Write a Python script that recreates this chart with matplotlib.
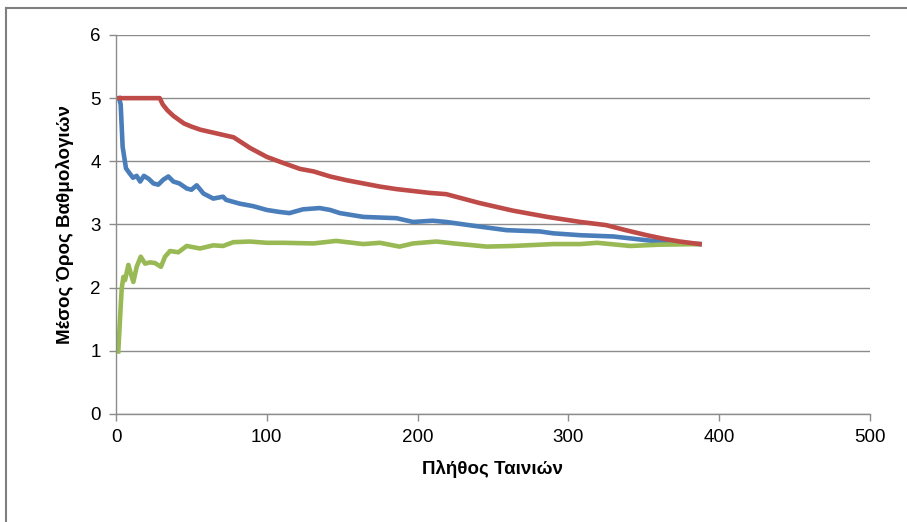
import matplotlib
matplotlib.use("Agg")
import matplotlib.pyplot as plt
from matplotlib.lines import Line2D

plt.rcParams['font.family'] = ['Liberation Sans', 'DejaVu Sans']

# μέγιστος μέσος όρος (κόκκινο)
max_x = [0, 29, 31, 34, 38, 45, 50, 56, 67, 78, 89, 100, 109, 122, 131, 142, 153,
         164, 175, 186, 197, 208, 219, 230, 241, 263, 286, 308, 325, 338, 352, 364,
         374, 387]
max_y = [5.0, 5.0, 4.9, 4.81, 4.72, 4.6, 4.55, 4.5, 4.44, 4.38, 4.21, 4.07, 3.99,
         3.88, 3.84, 3.76, 3.70, 3.65, 3.60, 3.56, 3.53, 3.50, 3.48, 3.41, 3.34, 3.22,
         3.12, 3.04, 2.99, 2.91, 2.83, 2.77, 2.73, 2.69]

# μέσος όρος (μπλε)
avg_x = [2, 3.1, 4.4, 6.6, 9, 11.3, 13.7, 16, 18.5, 21.8, 24.8, 28, 31.4, 34.7, 38,
         42, 46.9, 50, 53.5, 58, 64.5, 71, 73, 82, 91, 100, 108, 115, 124, 135, 142,
         148.5, 164, 186, 197, 210, 219, 237, 259, 281, 290, 308, 319, 330, 352, 369, 387]
avg_y = [5.0, 4.9, 4.23, 3.89, 3.81, 3.74, 3.77, 3.68, 3.77, 3.72, 3.65, 3.63, 3.71,
         3.76, 3.68, 3.65, 3.57, 3.55, 3.62, 3.49, 3.41, 3.44, 3.39, 3.33, 3.29, 3.23,
         3.20, 3.18, 3.24, 3.26, 3.23, 3.18, 3.12, 3.10, 3.04, 3.06, 3.04, 2.98, 2.91,
         2.89, 2.86, 2.83, 2.82, 2.81, 2.75, 2.71, 2.69]

# ελάχιστος μέσος όρος (πράσινο)
min_x = [1.5, 3.1, 3.8, 4.9, 6, 8.2, 9.5, 11.5, 13.7, 16.4, 19.3, 22.5, 25.8, 29.8,
         32.5, 35.8, 41.3, 46.9, 55.7, 64.5, 71, 77.8, 88.8, 100, 111, 131, 146, 164,
         175, 188, 197, 212.6, 224, 245.8, 263, 290, 308, 319, 341, 360, 387]
min_y = [0.99, 1.70, 1.99, 2.17, 2.12, 2.36, 2.25, 2.09, 2.33, 2.49, 2.38, 2.40, 2.39,
         2.33, 2.49, 2.58, 2.56, 2.66, 2.62, 2.67, 2.66, 2.72, 2.73, 2.71, 2.71, 2.70,
         2.74, 2.69, 2.71, 2.65, 2.70, 2.73, 2.70, 2.65, 2.66, 2.69, 2.69, 2.71, 2.66,
         2.68, 2.69]

x_ticks = [0, 100, 200, 300, 400, 500]
y_ticks = [0, 1, 2, 3, 4, 5, 6]

fig = plt.figure(figsize=(9.07, 5.22), dpi=100)
ax = fig.add_axes([0.1279, 0.2069, 0.8313, 0.7261])

lw = 3.3
ax.plot(avg_x, avg_y, color='#4A7EBB', lw=lw, solid_joinstyle='round')
ax.plot(min_x, min_y, color='#98B954', lw=lw, solid_joinstyle='round')
ax.plot(max_x, max_y, color='#BE4B48', lw=lw, solid_joinstyle='round')

ax.set_xlim(0, 500)
ax.set_ylim(0, 6)
ax.set_xticks(x_ticks)
ax.set_yticks(y_ticks)
ax.yaxis.grid(True, color='#8C8C8C', lw=1.0)
ax.set_axisbelow(True)
for s in ['top', 'right']:
    ax.spines[s].set_visible(False)
for s in ['left', 'bottom']:
    ax.spines[s].set_color('#8C8C8C')
    ax.spines[s].set_linewidth(1.0)
ax.tick_params(colors='#8C8C8C', labelcolor='black', labelsize=13.5, length=5, width=1.0, pad=6)

ax.set_xlabel('Πλήθος Ταινιών', fontsize=13.5, fontweight='bold', labelpad=10)
ax.set_ylabel('Μέσος Όρος Βαθμολογιών', fontsize=13.5, fontweight='bold', labelpad=12)

# πλαίσιο γραφήματος
fig.add_artist(Line2D([0.0066, 1.0], [0.985, 0.985], color='#7F7F7F', lw=1.5))
fig.add_artist(Line2D([0.0066, 0.0066], [0.0, 0.985], color='#7F7F7F', lw=1.5))

fig.savefig('out.png', dpi=100)
